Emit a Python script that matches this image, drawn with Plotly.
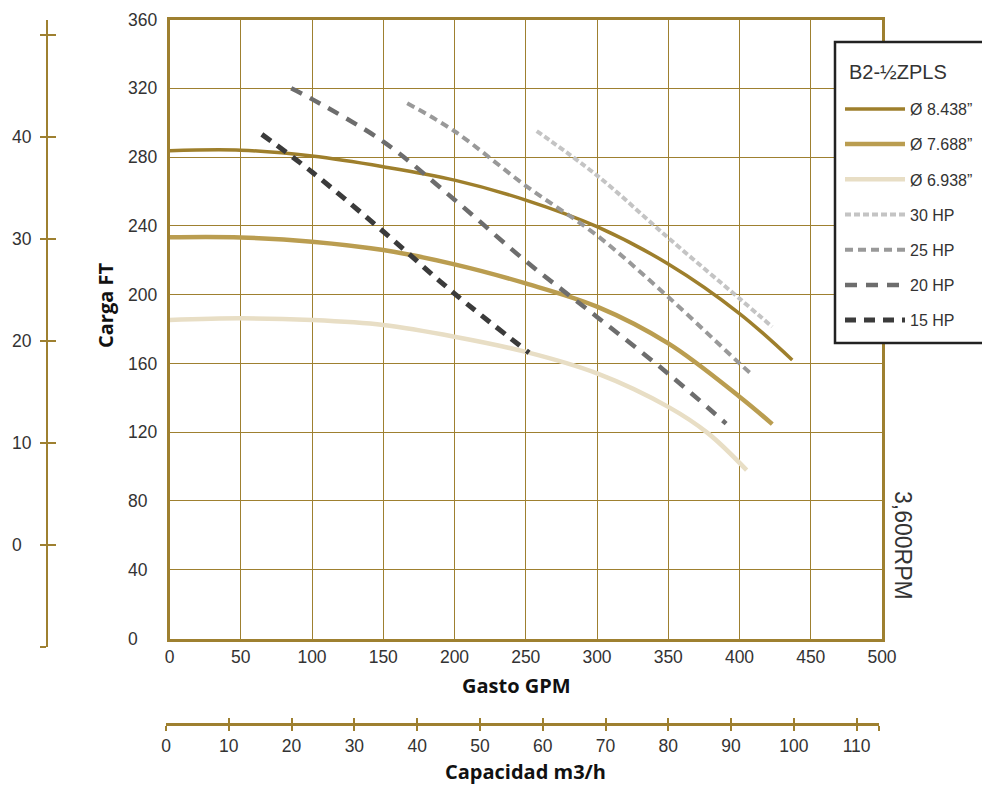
import plotly.graph_objects as go

# page body has an 8px margin, so the figure is 8px smaller than the window
OFF = 8
W, H = 990 - OFF, 785 - OFF
GOLD = "#9E8030"
TXT = "#333333"

# ---- data ----
gpm_8438 = [0, 50, 100, 150, 200, 250, 300, 350, 400, 437]
ft_8438 = [283.7, 284, 280.6, 274.4, 266.6, 255, 239.5, 217.8, 189, 162]

gpm_7688 = [0, 50, 100, 150, 200, 250, 300, 350, 400, 423]
ft_7688 = [233.3, 233.2, 230.8, 225.9, 217.6, 206.5, 193, 171.6, 140.6, 124.7]

gpm_6938 = [0, 50, 100, 150, 200, 250, 300, 350, 378, 405]
ft_6938 = [185.2, 186.2, 185.2, 182.3, 175.5, 166.7, 154.2, 134.7, 119.3, 97.9]

gpm_30hp = [257.7, 300, 350, 400, 422.9]
ft_30hp = [295.1, 269.3, 233, 197.7, 181.3]

gpm_25hp = [166.8, 200, 250, 300, 350, 400, 409.7]
ft_25hp = [311.3, 295, 263.3, 234.4, 198.6, 160, 152.8]

gpm_20hp = [85.4, 100, 150, 200, 250, 300, 350, 390.6]
ft_20hp = [320, 313.7, 289, 255.2, 219.5, 187, 154, 125]

gpm_15hp = [64.8, 100, 150, 200, 252.3]
ft_15hp = [293.2, 271.3, 236.7, 200.6, 166.2]

gpm_ticks = [0, 50, 100, 150, 200, 250, 300, 350, 400, 450, 500]
ft_ticks = [0, 40, 80, 120, 160, 200, 240, 280, 320, 360]
m_ticks = [-10, 0, 10, 20, 30, 40, 50]
m_labels = ["", "0", "10", "20", "30", "40", ""]
m3h_ticks = [0, 10, 20, 30, 40, 50, 60, 70, 80, 90, 100, 110]
GPM_PER_M3H = 4.4029
m3h_max = 500 / GPM_PER_M3H

legend_title = "B2-½ZPLS"
series = [
    ("Ø 8.438”", gpm_8438, ft_8438, "#9E7F2C", 3.5, "solid"),
    ("Ø 7.688”", gpm_7688, ft_7688, "#BA9D50", 4.5, "solid"),
    ("Ø 6.938”", gpm_6938, ft_6938, "#E8DEC5", 4.5, "solid"),
    ("30 HP", gpm_30hp, ft_30hp, "#C4C4C4", 4, "6px,3px"),
    ("25 HP", gpm_25hp, ft_25hp, "#999999", 4, "8px,5px"),
    ("20 HP", gpm_20hp, ft_20hp, "#6D6D6D", 4.5, "12px,9px"),
    ("15 HP", gpm_15hp, ft_15hp, "#3B3B3B", 5, "11px,8px"),
]


def px(x):
    return (x - OFF) / W


def py(y):
    return 1 - (y - OFF) / H


fig = go.Figure()
for name, xs, ys, col, wd, dash in series:
    fig.add_trace(go.Scatter(
        x=xs, y=ys, mode="lines", name=name, legendgroup=name,
        line=dict(color=col, width=wd, dash=dash, shape="spline", smoothing=1.0),
        hoverinfo="skip"))

# dummy traces so that the auxiliary axes are drawn
for xa, ya in [("x2", "y2"), ("x2", "y3"), ("x2", "y5"), ("x3", "y2"), ("x", "y4")]:
    fig.add_trace(go.Scatter(x=[None], y=[None], xaxis=xa, yaxis=ya,
                             showlegend=False, hoverinfo="skip"))

tickfont = dict(family="Liberation Sans, Arial", size=17.5, color=TXT)
titlefont = dict(family="Open Sans", size=20, color="#111111")

fig.update_layout(
    width=W, height=H,
    margin=dict(l=0, r=0, t=0, b=0),
    paper_bgcolor="white", plot_bgcolor="rgba(0,0,0,0)",
    showlegend=True,
    xaxis=dict(domain=[px(169.5), px(882)], range=[0, 500], tickvals=gpm_ticks,
               showgrid=True, gridcolor=GOLD, gridwidth=1,
               showline=True, linecolor=GOLD, linewidth=3, mirror=True,
               ticks="", tickfont=tickfont, zeroline=False, automargin=False,
               ticklabelstandoff=0),
    yaxis=dict(domain=[py(638.5), py(19.5)], range=[0, 360], tickvals=ft_ticks,
               showgrid=True, gridcolor=GOLD, gridwidth=1,
               showline=True, linecolor=GOLD, linewidth=3, mirror=True,
               showticklabels=False, ticks="", zeroline=False, automargin=False),
    yaxis4=dict(overlaying="y", anchor="free", position=px(124), side="left",
                range=[0, 360], tickvals=ft_ticks, ticklabelposition="inside",
                ticklabeloverflow="allow",
                showgrid=False, showline=False, zeroline=False, ticks="",
                tickfont=tickfont, automargin=False),
    # metre scale on the far left
    yaxis2=dict(domain=[py(647), py(20)], anchor="free", position=px(46.7), side="left",
                range=[-10, 51.5], tickvals=m_ticks, showticklabels=False,
                showline=True, linecolor=GOLD, linewidth=2,
                ticks="outside", ticklen=6, tickwidth=2, tickcolor=GOLD,
                showgrid=False, zeroline=False, automargin=False),
    yaxis3=dict(overlaying="y2", anchor="free", position=px(46.7), side="left",
                range=[-10, 51.5], tickvals=m_ticks, showticklabels=False,
                showline=False, ticks="inside", ticklen=8, tickwidth=2, tickcolor=GOLD,
                showgrid=False, zeroline=False, automargin=False),
    yaxis5=dict(overlaying="y2", anchor="free", position=px(8), side="left",
                range=[-10, 51.5], tickvals=m_ticks, ticktext=m_labels,
                ticklabelposition="inside", ticklabeloverflow="allow",
                showline=False, ticks="",
                showgrid=False, zeroline=False, tickfont=tickfont, automargin=False),
    # m3/h scale at the bottom
    xaxis2=dict(domain=[px(166), px(879)], anchor="free", position=py(724), side="bottom",
                range=[0, m3h_max], tickvals=m3h_ticks + [m3h_max],
                ticktext=[str(v) for v in m3h_ticks] + [""],
                showline=True, linecolor=GOLD, linewidth=2.5,
                ticks="outside", ticklen=5, tickwidth=2, tickcolor=GOLD,
                showgrid=False, zeroline=False, tickfont=tickfont, automargin=False),
    xaxis3=dict(overlaying="x2", anchor="free", position=py(724), side="bottom",
                range=[0, m3h_max], tickvals=m3h_ticks + [m3h_max], showticklabels=False,
                showline=False, ticks="inside", ticklen=6, tickwidth=2, tickcolor=GOLD,
                showgrid=False, zeroline=False, automargin=False),
    legend=dict(x=px(840), y=py(92), xanchor="left", yanchor="top",
                bgcolor="rgba(0,0,0,0)", borderwidth=0,
                font=dict(family="Liberation Sans, Arial", size=16, color=TXT),
                tracegroupgap=11.4, itemwidth=60, traceorder="grouped"),
    shapes=[
        dict(type="rect", xref="paper", yref="paper", layer="above",
             x0=px(835), x1=px(1000), y0=py(343), y1=py(42),
             line=dict(color="#222222", width=2.5), fillcolor="white"),
    ],
    annotations=[
        dict(text=legend_title, x=px(847), y=py(72), xref="paper", yref="paper",
             showarrow=False, xanchor="left", yanchor="middle",
             font=dict(family="Liberation Sans, Arial", size=20, color=TXT)),
        dict(text="<b>Carga FT</b>", x=px(105), y=py(306), xref="paper", yref="paper",
             textangle=-90, showarrow=False, font=titlefont, xanchor="center", yanchor="middle"),
        dict(text="<b>Gasto GPM</b>", x=px(516), y=py(685), xref="paper", yref="paper",
             showarrow=False, font=titlefont, xanchor="center", yanchor="middle"),
        dict(text="<b>Capacidad m3/h</b>", x=px(525), y=py(771), xref="paper", yref="paper",
             showarrow=False, font=titlefont, xanchor="center", yanchor="middle"),
        dict(text="3,600RPM", x=px(903), y=py(545), xref="paper", yref="paper",
             textangle=90, showarrow=False, xanchor="center", yanchor="middle",
             font=dict(family="Liberation Sans, Arial", size=23, color=TXT)),
    ],
)

fig.write_html("out.html")
